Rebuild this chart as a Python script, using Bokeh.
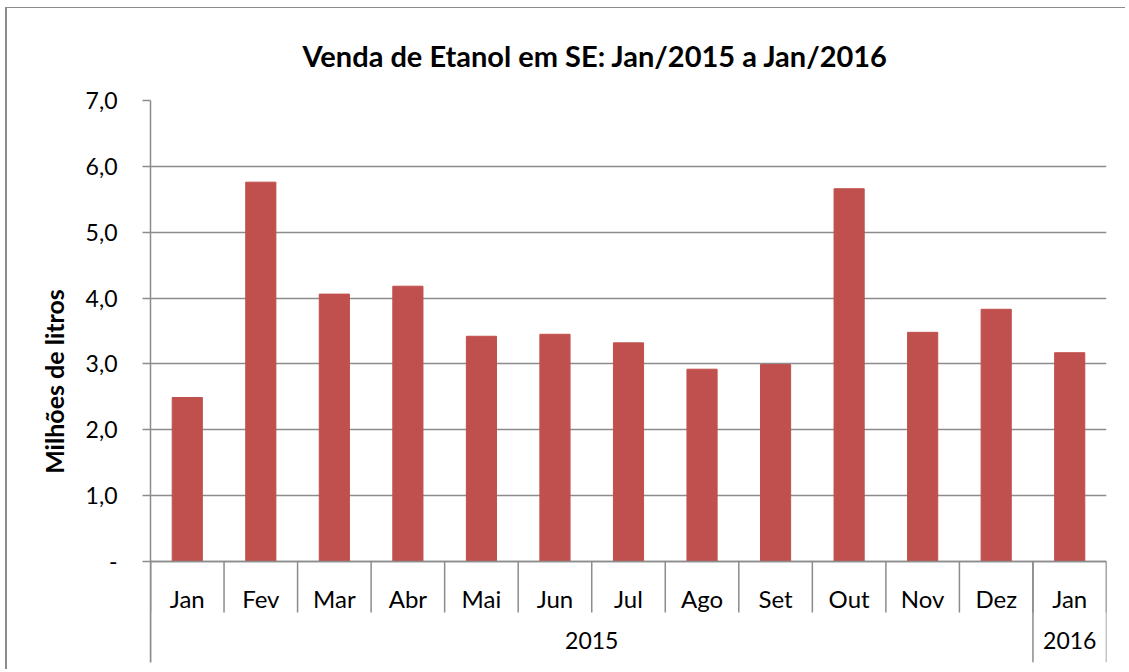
from bokeh.plotting import figure
from bokeh.models import FactorRange, Range1d, FixedTicker
from bokeh.embed import file_html
from bokeh.resources import INLINE

# ---- data ----
years = ["2015"] * 12 + ["2016"]
months = ["Jan", "Fev", "Mar", "Abr", "Mai", "Jun", "Jul", "Ago", "Set", "Out", "Nov", "Dez", "Jan"]
values = [2.49, 5.76, 4.06, 4.18, 3.42, 3.45, 3.32, 2.92, 2.99, 5.66, 3.48, 3.83, 3.17]
y_ticks = [0, 1, 2, 3, 4, 5, 6, 7]
y_tick_labels = ["-", "1,0", "2,0", "3,0", "4,0", "5,0", "6,0", "7,0"]
title_text = "Venda de Etanol em SE: Jan/2015 a Jan/2016"
y_label = "Milhões de litros"

# ---- layout constants (page pixels) ----
OX, OY = 7, 8                             # figure origin on the page (via margin)
W, H = 1120, 662
FL, FT, FR, FB = 150, 100, 1106, 662      # frame edges (page)
AXIS_Y = 561                              # page y of value 0
MONTH_SEP = 612                           # bottom of month separators
Y_MAX = 7.0
px_per_unit = (AXIS_Y - FT) / Y_MAX
y_min = -(FB - AXIS_Y) / px_per_unit
month_sep_y = -(MONTH_SEP - AXIS_Y) / px_per_unit

FONT = "Lato"
GRAY = "#8c8c8c"
BAR = "#C0504D"

factors = list(zip(years, months))
x_range = FactorRange(*factors, factor_padding=0, group_padding=0,
                      subgroup_padding=0, range_padding=0)

p = figure(x_range=x_range, y_range=Range1d(y_min, Y_MAX), width=W, height=H,
           output_backend="svg", toolbar_location=None,
           min_border_left=FL - OX, min_border_top=FT - OY,
           min_border_right=OX + W - FR, min_border_bottom=OY + H - FB)
p.margin = (OY, 0, 0, OX)
# outer chart border: its left and top edges (right/bottom lie outside the picture)
p.styles = {"box-shadow": "-2px -1px 0 0 #8c8c8c"}
p.outline_line_color = None
p.background_fill_color = "white"
p.border_fill_color = "white"

p.vbar(x=factors, top=values, width=0.41, fill_color=BAR, line_color=BAR)

# category separators (boundaries between factors)
n = len(factors)
bounds = list(range(n + 1))
year_bounds = [0] + [i for i in range(1, n) if years[i] != years[i - 1]] + [n]
p.segment(x0=bounds, y0=[0] * len(bounds), x1=bounds, y1=[month_sep_y] * len(bounds),
          line_color=GRAY, line_width=1.5)
p.segment(x0=year_bounds, y0=[0] * len(year_bounds), x1=year_bounds,
          y1=[y_min] * len(year_bounds), line_color=GRAY, line_width=1.5)

# y axis
yax = p.yaxis[0]
yax.ticker = FixedTicker(ticks=y_ticks)
yax.major_label_overrides = {t: l for t, l in zip(y_ticks, y_tick_labels)}
yax.major_tick_out = 8
yax.major_tick_in = 0
yax.minor_tick_line_color = None
yax.major_tick_line_color = GRAY
yax.major_tick_line_width = 1.5
yax.axis_line_color = GRAY
yax.axis_line_width = 1.5
yax.major_label_text_font = FONT
yax.major_label_text_font_size = "23px"
yax.major_label_text_color = "black"
yax.major_label_standoff = 25
yax.axis_label = y_label
yax.axis_label_text_font = FONT
yax.axis_label_text_font_style = "bold"
yax.axis_label_text_font_size = "25px"
yax.axis_label_text_color = "black"
yax.axis_label_standoff = 14

p.ygrid.ticker = FixedTicker(ticks=y_ticks)
p.ygrid.grid_line_color = GRAY
p.ygrid.grid_line_width = 1.5
p.xgrid.grid_line_color = None

# x axis (categorical, drawn at value 0)
xax = p.xaxis[0]
xax.fixed_location = 0
xax.axis_line_color = GRAY
xax.axis_line_width = 1.5
xax.major_tick_line_color = None
xax.minor_tick_line_color = None
xax.major_label_text_font = FONT
xax.major_label_text_font_size = "24px"
xax.major_label_text_color = "black"
xax.major_label_standoff = 16
xax.group_text_font = FONT
xax.group_text_font_size = "23px"
xax.group_text_font_style = "normal"
xax.group_text_color = "black"
xax.group_label_orientation = "horizontal"
xax.separator_line_alpha = 0

# title
p.title.text = title_text
p.title.text_font = FONT
p.title.text_font_style = "bold"
p.title.text_font_size = "29px"
p.title.text_color = "black"
p.title.align = "left"
p.title.offset = 152
p.title.standoff = 55

open("out.html", "w").write(file_html(p, INLINE))
